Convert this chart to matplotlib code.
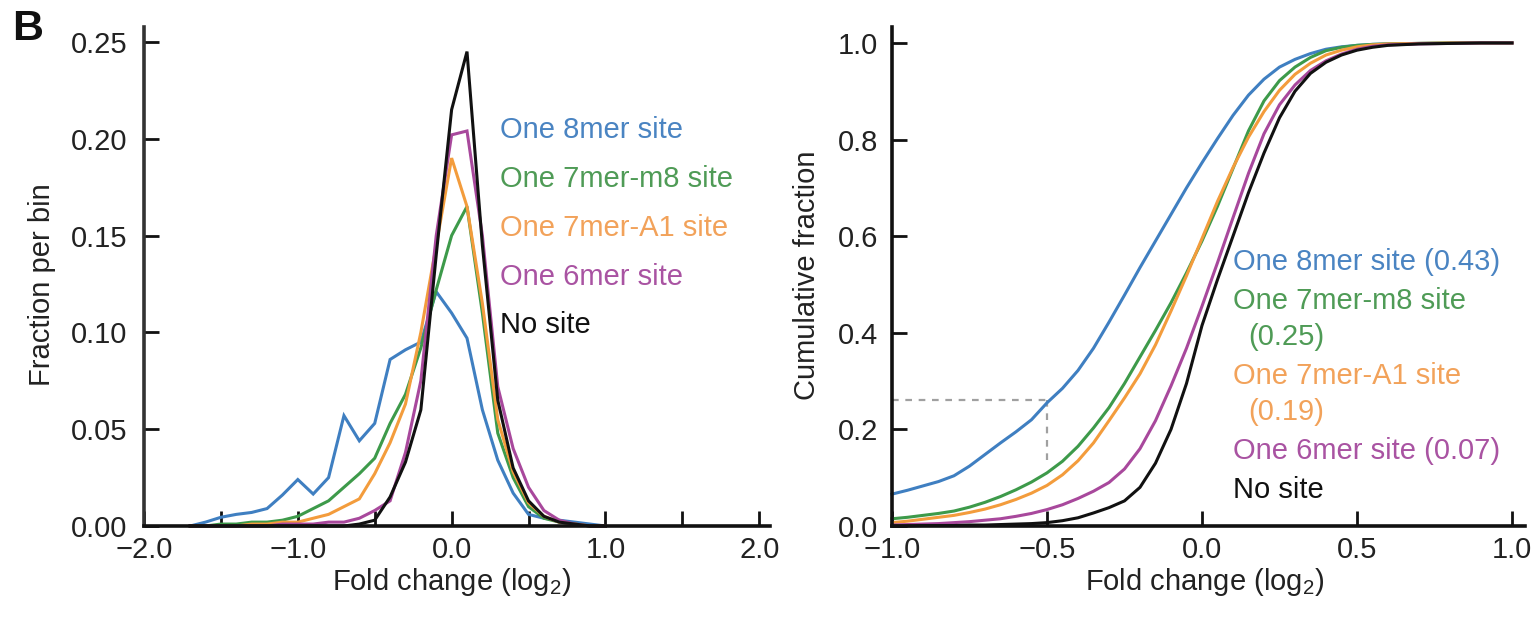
import matplotlib
matplotlib.use("Agg")
import matplotlib.pyplot as plt
from matplotlib import font_manager
from matplotlib.ticker import FixedLocator, NullFormatter

# ---------------- data ----------------
series_names = ["One 8mer site", "One 7mer-m8 site", "One 7mer-A1 site",
                "One 6mer site", "No site"]
cdf_labels = [["One 8mer site (0.43)"],
              ["One 7mer-m8 site", "(0.25)"],
              ["One 7mer-A1 site", "(0.19)"],
              ["One 6mer site (0.07)"],
              ["No site"]]

# histogram bin centres (log2 fold change)
bin_x = [-1.7, -1.6, -1.5, -1.4, -1.3, -1.2, -1.1, -1.0, -0.9, -0.8, -0.7,
         -0.6, -0.5, -0.4, -0.3, -0.2, -0.1, 0.0, 0.1, 0.2, 0.3, 0.4, 0.5,
         0.6, 0.7, 0.8, 0.9, 1.0]
frac_8mer = [0.000, 0.002, 0.0045, 0.006, 0.007, 0.009, 0.016, 0.024, 0.0165,
             0.025, 0.057, 0.044, 0.053, 0.086, 0.091, 0.095, 0.121, 0.110,
             0.097, 0.060, 0.034, 0.017, 0.006, 0.004, 0.003, 0.002, 0.001, 0.000]
frac_7m8 = [0.000, 0.000, 0.001, 0.001, 0.002, 0.002, 0.003, 0.005, 0.009,
            0.013, 0.020, 0.027, 0.035, 0.053, 0.068, 0.092, 0.122, 0.150,
            0.165, 0.110, 0.048, 0.025, 0.010, 0.004, 0.002, 0.001, 0.000, 0.000]
frac_7a1 = [0.000, 0.000, 0.000, 0.000, 0.001, 0.001, 0.002, 0.002, 0.004,
            0.006, 0.010, 0.014, 0.027, 0.043, 0.063, 0.100, 0.145, 0.190,
            0.165, 0.115, 0.055, 0.028, 0.012, 0.005, 0.002, 0.001, 0.000, 0.000]
frac_6mer = [0.000, 0.000, 0.000, 0.000, 0.000, 0.000, 0.001, 0.001, 0.001,
             0.002, 0.002, 0.004, 0.008, 0.013, 0.038, 0.075, 0.150, 0.202,
             0.204, 0.150, 0.072, 0.040, 0.020, 0.008, 0.003, 0.001, 0.000, 0.000]
frac_none = [0.000, 0.000, 0.000, 0.000, 0.000, 0.000, 0.000, 0.000, 0.000,
             0.000, 0.000, 0.001, 0.003, 0.015, 0.033, 0.060, 0.140, 0.215,
             0.245, 0.145, 0.065, 0.030, 0.013, 0.005, 0.002, 0.001, 0.000, 0.000]

# cumulative distributions
cdf_x = [-1.00, -0.95, -0.90, -0.85, -0.80, -0.75, -0.70, -0.65, -0.60, -0.55,
         -0.50, -0.45, -0.40, -0.35, -0.30, -0.25, -0.20, -0.15, -0.10, -0.05,
         0.00, 0.05, 0.10, 0.15, 0.20, 0.25, 0.30, 0.35, 0.40, 0.45, 0.50,
         0.55, 0.60, 0.70, 0.80, 0.90, 1.00]
cdf_8mer = [0.066, 0.074, 0.083, 0.092, 0.104, 0.124, 0.148, 0.172, 0.195, 0.220,
            0.255, 0.285, 0.322, 0.368, 0.422, 0.478, 0.535, 0.590, 0.645, 0.700,
            0.752, 0.802, 0.850, 0.892, 0.925, 0.950, 0.966, 0.978, 0.987, 0.992,
            0.995, 0.997, 0.998, 0.999, 1.000, 1.000, 1.000]
cdf_7m8 = [0.015, 0.018, 0.022, 0.026, 0.031, 0.039, 0.049, 0.061, 0.075, 0.091,
           0.110, 0.134, 0.165, 0.203, 0.245, 0.295, 0.350, 0.405, 0.462, 0.524,
           0.590, 0.662, 0.740, 0.818, 0.880, 0.922, 0.950, 0.970, 0.984, 0.991,
           0.995, 0.997, 0.998, 0.999, 1.000, 1.000, 1.000]
cdf_7a1 = [0.007, 0.010, 0.014, 0.018, 0.022, 0.028, 0.035, 0.044, 0.055, 0.068,
           0.084, 0.106, 0.135, 0.172, 0.218, 0.265, 0.315, 0.375, 0.445, 0.518,
           0.595, 0.672, 0.742, 0.805, 0.858, 0.902, 0.935, 0.958, 0.975, 0.985,
           0.992, 0.996, 0.998, 0.999, 1.000, 1.000, 1.000]
cdf_6mer = [0.002, 0.003, 0.004, 0.005, 0.007, 0.009, 0.012, 0.015, 0.020, 0.026,
            0.034, 0.044, 0.057, 0.072, 0.090, 0.118, 0.160, 0.218, 0.290, 0.368,
            0.455, 0.545, 0.638, 0.730, 0.812, 0.872, 0.913, 0.943, 0.963, 0.977,
            0.987, 0.993, 0.996, 0.998, 0.999, 1.000, 1.000]
cdf_none = [0.000, 0.000, 0.001, 0.001, 0.001, 0.002, 0.002, 0.003, 0.004, 0.005,
            0.007, 0.011, 0.017, 0.027, 0.038, 0.052, 0.080, 0.130, 0.200, 0.295,
            0.415, 0.510, 0.600, 0.690, 0.772, 0.845, 0.900, 0.937, 0.960, 0.975,
            0.985, 0.991, 0.995, 0.998, 0.999, 1.000, 1.000]

# 8mer reference point (fold change -0.5)
ref_x = -0.5
ref_y = 0.26

hist_series = [frac_8mer, frac_7m8, frac_7a1, frac_6mer, frac_none]
cdf_series = [cdf_8mer, cdf_7m8, cdf_7a1, cdf_6mer, cdf_none]

line_colors = ["#3f7fc1", "#3d9a4a", "#f39c3c", "#a8489c", "#111111"]
text_colors = ["#4a84c2", "#4f9b56", "#f2a25a", "#a953a2", "#111111"]

# ---------------- fonts ----------------
installed = {f.name for f in font_manager.fontManager.ttflist}
if "Liberation Sans Narrow" in installed:
    fam = "Liberation Sans Narrow"
    fs = 24
else:
    fam = "Liberation Sans"
    fs = 21
plt.rcParams["font.family"] = [fam, "DejaVu Sans"]
plt.rcParams["mathtext.fontset"] = "custom"
plt.rcParams["mathtext.rm"] = fam
plt.rcParams["mathtext.it"] = fam
plt.rcParams["mathtext.bf"] = fam

W, H = 1539, 622
fig = plt.figure(figsize=(W / 100, H / 100), dpi=100)


def px_axes(x0, y0, x1, y1):
    return fig.add_axes([x0 / W, 1 - y1 / H, (x1 - x0) / W, (y1 - y0) / H])


def style(ax):
    for s in ("top", "right"):
        ax.spines[s].set_visible(False)
    for s in ("left", "bottom"):
        ax.spines[s].set_linewidth(2.6)
        ax.spines[s].set_color("#111111")
    ax.tick_params(which="both", direction="in", length=11, width=2.0,
                   colors="#111111", labelsize=fs, labelcolor="#222222")


# ---------------- left: fraction per bin ----------------
ax1 = px_axes(144, 27, 770, 526)
style(ax1)
ax1.spines["left"].set_color("#333333")
for ys, c in zip(hist_series, line_colors):
    ax1.plot(bin_x, ys, color=c, lw=2.2, solid_joinstyle="miter", clip_on=False)
ax1.set_xlim(-2.0, 2.07)
ax1.set_ylim(0, 0.2577)
ax1.xaxis.set_major_locator(FixedLocator([-2.0, -1.0, 0.0, 1.0, 2.0]))
ax1.xaxis.set_minor_locator(FixedLocator([-1.5, -0.5, 0.5, 1.5]))
ax1.xaxis.set_minor_formatter(NullFormatter())
ax1.set_xticklabels(["\u22122.0", "\u22121.0", "0.0", "1.0", "2.0"])
ax1.set_yticks([0.0, 0.05, 0.10, 0.15, 0.20, 0.25])
ax1.set_yticklabels(["0.00", "0.05", "0.10", "0.15", "0.20", "0.25"])
ax1.tick_params(axis="y", pad=12)
ax1.tick_params(axis="x", pad=7)

legend_y_left = [130, 179, 228, 277, 325]
for name, col, yy in zip(series_names, text_colors, legend_y_left):
    fig.text(500 / W, 1 - yy / H, name, color=col, fontsize=fs,
             ha="left", va="center")

# ---------------- right: cumulative fraction ----------------
ax2 = px_axes(892, 27, 1525, 526)
style(ax2)
ax2.plot([-1.0, ref_x], [ref_y, ref_y], color="#a0a0a0", lw=1.6,
         ls=(0, (3, 3)), zorder=1)
ax2.plot([ref_x, ref_x], [ref_y, 0.13], color="#a0a0a0", lw=1.6,
         ls=(0, (3, 3)), zorder=1)
for ys, c in zip(cdf_series, line_colors):
    ax2.plot(cdf_x, ys, color=c, lw=2.2, clip_on=False, zorder=2)
ax2.set_xlim(-1.0, 1.042)
ax2.set_ylim(0, 1.033)
ax2.set_xticks([-1.0, -0.5, 0.0, 0.5, 1.0])
ax2.set_xticklabels(["\u22121.0", "\u22120.5", "0.0", "0.5", "1.0"])
ax2.set_yticks([0.0, 0.2, 0.4, 0.6, 0.8, 1.0])
ax2.set_yticklabels(["0.0", "0.2", "0.4", "0.6", "0.8", "1.0"])
ax2.tick_params(axis="y", pad=10)
ax2.tick_params(axis="x", pad=7)

line_y = 262
for lines, col in zip(cdf_labels, text_colors):
    for i, t in enumerate(lines):
        xx = 1233 if i == 0 else 1248
        fig.text(xx / W, 1 - line_y / H, t, color=col, fontsize=fs,
                 ha="left", va="center")
        line_y += 36
    line_y += 3

# ---------------- axis titles ----------------
fig.text(42 / W, 1 - 285 / H, "Fraction per bin", rotation=90, fontsize=fs,
         ha="center", va="center", color="#222222")
fig.text(807 / W, 1 - 275 / H, "Cumulative fraction", rotation=90, fontsize=fs,
         ha="center", va="center", color="#222222")
fig.text(452 / W, 1 - 582 / H, "Fold change (log$_2$)", fontsize=fs,
         ha="center", va="center", color="#222222")
fig.text(1205 / W, 1 - 582 / H, "Fold change (log$_2$)", fontsize=fs,
         ha="center", va="center", color="#222222")
fig.text(28 / W, 1 - 29 / H, "B", fontsize=31, fontweight="bold",
         ha="center", va="center", color="#111111")

fig.savefig("out.png", dpi=100, facecolor="white")
